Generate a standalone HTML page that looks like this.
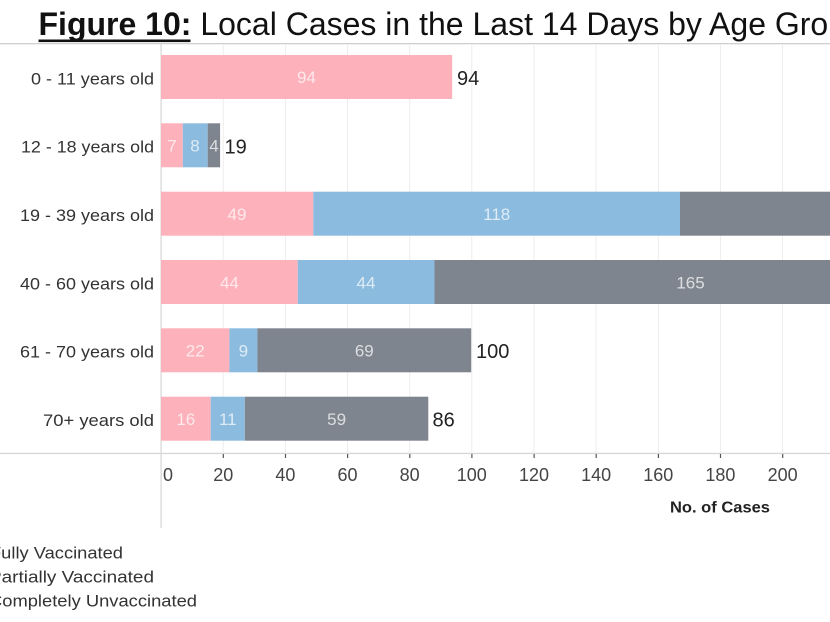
<!DOCTYPE html>
<html><head><meta charset="utf-8"><style>
html,body{margin:0;padding:0;background:#fff;overflow:hidden;}
svg{display:block;}
</style></head><body>
<svg width="830" height="622" viewBox="0 0 830 622" xmlns="http://www.w3.org/2000/svg" font-family="'Liberation Sans', sans-serif">
<!-- title -->
<text x="38.5" y="35" font-size="32" fill="#111"><tspan font-weight="bold">Figure 10:</tspan> Local Cases in the Last 14 Days by Age Group</text>
<rect x="38.5" y="39.5" width="152" height="2.6" fill="#111"/>
<rect x="0" y="43" width="830" height="1.3" fill="#d0d0d0"/>
<!-- gridlines -->
<g fill="#ededed">
<rect x="222.7" y="44" width="1" height="409"/>
<rect x="284.9" y="44" width="1" height="409"/>
<rect x="347" y="44" width="1" height="409"/>
<rect x="409.2" y="44" width="1" height="409"/>
<rect x="471.3" y="44" width="1" height="409"/>
<rect x="533.5" y="44" width="1" height="409"/>
<rect x="595.6" y="44" width="1" height="409"/>
<rect x="657.8" y="44" width="1" height="409"/>
<rect x="719.9" y="44" width="1" height="409"/>
<rect x="782.1" y="44" width="1" height="409"/>
</g>
<!-- axes -->
<rect x="0" y="452.8" width="830" height="1.3" fill="#d6d6d6"/>
<rect x="160.5" y="44" width="1.2" height="484" fill="#d6d6d6"/>
<g fill="#555">
<rect x="222.7" y="454" width="1.2" height="4"/>
<rect x="284.9" y="454" width="1.2" height="4"/>
<rect x="347" y="454" width="1.2" height="4"/>
<rect x="409.2" y="454" width="1.2" height="4"/>
<rect x="471.3" y="454" width="1.2" height="4"/>
<rect x="533.5" y="454" width="1.2" height="4"/>
<rect x="595.6" y="454" width="1.2" height="4"/>
<rect x="657.8" y="454" width="1.2" height="4"/>
<rect x="719.9" y="454" width="1.2" height="4"/>
<rect x="782.1" y="454" width="1.2" height="4"/>
</g>
<!-- bars -->
<g>
<rect x="161" y="55" width="291.2" height="44" fill="#fdb1ba"/>

<rect x="161" y="123.3" width="21.8" height="44" fill="#fdb1ba"/>
<rect x="182.8" y="123.3" width="24.9" height="44" fill="#8bbbde"/>
<rect x="207.7" y="123.3" width="12.4" height="44" fill="#7f858f"/>

<rect x="161" y="191.7" width="152.3" height="44" fill="#fdb1ba"/>
<rect x="313.3" y="191.7" width="366.7" height="44" fill="#8bbbde"/>
<rect x="680" y="191.7" width="150" height="44" fill="#7f858f"/>

<rect x="161" y="260" width="136.8" height="44" fill="#fdb1ba"/>
<rect x="297.8" y="260" width="136.7" height="44" fill="#8bbbde"/>
<rect x="434.5" y="260" width="395.5" height="44" fill="#7f858f"/>

<rect x="161" y="328.3" width="68.4" height="44" fill="#fdb1ba"/>
<rect x="229.4" y="328.3" width="28" height="44" fill="#8bbbde"/>
<rect x="257.4" y="328.3" width="213.8" height="44" fill="#7f858f"/>

<rect x="161" y="396.7" width="49.7" height="44" fill="#fdb1ba"/>
<rect x="210.7" y="396.7" width="34.2" height="44" fill="#8bbbde"/>
<rect x="244.9" y="396.7" width="183.4" height="44" fill="#7f858f"/>
</g>
<!-- inside labels -->
<g font-size="17" fill="#ffffff" fill-opacity="0.72" text-anchor="middle">
<text x="306.5" y="83">94</text>
<text x="172" y="151.5">7</text>
<text x="195" y="151.5">8</text>
<text x="214" y="151.5">4</text>
<text x="237" y="220">49</text>
<text x="496.7" y="220">118</text>
<text x="366" y="288.3">44</text>
<text x="229.4" y="288.3">44</text>
<text x="690.5" y="288.3">165</text>
<text x="195.2" y="356.6">22</text>
<text x="243.4" y="356.6">9</text>
<text x="364.3" y="356.6">69</text>
<text x="185.8" y="425">16</text>
<text x="227.8" y="425">11</text>
<text x="336.6" y="425">59</text>
</g>
<!-- totals -->
<g font-size="20" fill="#222">
<text x="457" y="85">94</text>
<text x="224.5" y="153.5">19</text>
<text x="476" y="358">100</text>
<text x="432.5" y="426.5">86</text>
</g>
<!-- row labels -->
<g font-size="16.5" fill="#333" text-anchor="end">
<text x="154" y="84.5" textLength="123" lengthAdjust="spacingAndGlyphs">0 - 11 years old</text>
<text x="154" y="152.5" textLength="133" lengthAdjust="spacingAndGlyphs">12 - 18 years old</text>
<text x="154" y="221" textLength="134" lengthAdjust="spacingAndGlyphs">19 - 39 years old</text>
<text x="154" y="289.3" textLength="134" lengthAdjust="spacingAndGlyphs">40 - 60 years old</text>
<text x="154" y="357.6" textLength="134" lengthAdjust="spacingAndGlyphs">61 - 70 years old</text>
<text x="154" y="426" textLength="111" lengthAdjust="spacingAndGlyphs">70+ years old</text>
</g>
<!-- tick labels -->
<g font-size="18" fill="#444" text-anchor="middle">
<text x="168" y="481">0</text>
<text x="223.3" y="481">20</text>
<text x="285.4" y="481">40</text>
<text x="347.5" y="481">60</text>
<text x="409.7" y="481">80</text>
<text x="471.8" y="481">100</text>
<text x="534" y="481">120</text>
<text x="596.1" y="481">140</text>
<text x="658.3" y="481">160</text>
<text x="720.4" y="481">180</text>
<text x="782.6" y="481">200</text>
<text x="844.7" y="481">220</text>
</g>
<text x="670" y="512.5" font-size="16" font-weight="bold" fill="#222" textLength="100" lengthAdjust="spacingAndGlyphs">No. of Cases</text>
<!-- legend -->
<g font-size="17" fill="#333">
<text x="-10" y="558.5" textLength="133" lengthAdjust="spacingAndGlyphs">Fully Vaccinated</text>
<text x="-11" y="582.5" textLength="165" lengthAdjust="spacingAndGlyphs">Partially Vaccinated</text>
<text x="-11" y="606.5" textLength="208" lengthAdjust="spacingAndGlyphs">Completely Unvaccinated</text>
</g>
</svg>
</body></html>
